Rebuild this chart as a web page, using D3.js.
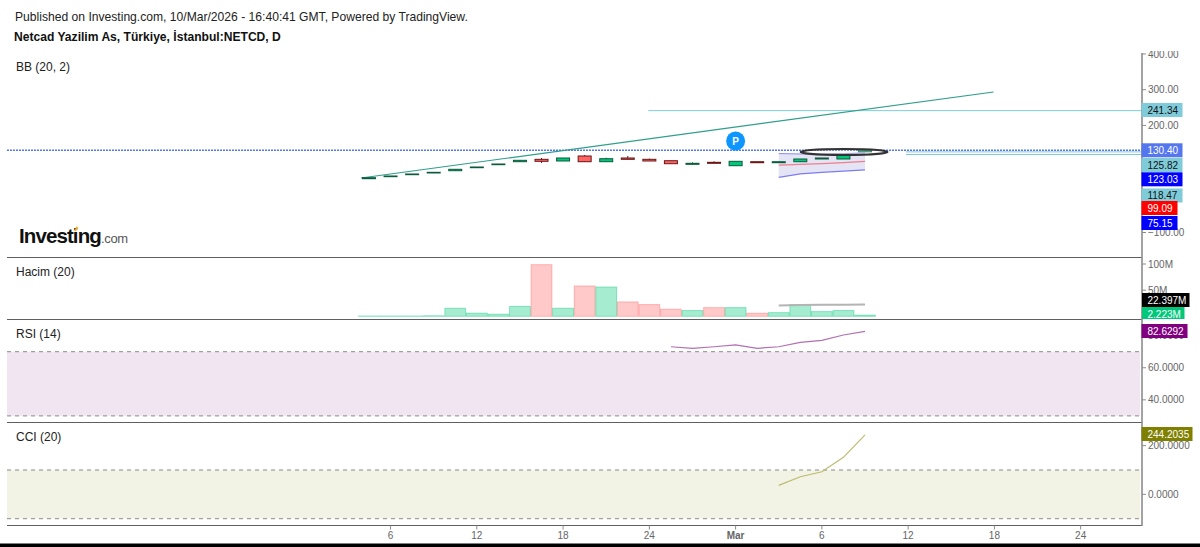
<!DOCTYPE html>
<html>
<head>
<meta charset="utf-8">
<script src="https://cdn.jsdelivr.net/npm/d3@7"></script>
<style>
html,body{margin:0;padding:0;background:#fff;overflow:hidden;}
text{font-family:"Liberation Sans",Arial,sans-serif;}
</style>
</head>
<body>
<div id="plot"></div>
<script>
//Values
var opens  = [50.7,56.3,61.9,66.7,73.1,81.5,89.9,98.3,105,100.3,114.3,98.3,108.7,105,101.1,91,96.6,87.1,98.3,95.5,98.3,105.9,105.9,126];
var closes = [53.5,58.3,63.9,68.6,77,83.5,91.9,102.2,99.4,108.7,98.3,106.7,105,100.3,92.7,93.8,93.8,99.4,95.5,98.3,105.9,108.7,117.9,130.4];
var highs  = [53.5,58.3,63.9,68.6,77,83.5,91.9,102.2,108.7,108.7,117,109.5,114.3,107,101.1,96.6,99.4,99.4,98.3,98.3,105.9,108.7,117.9,131];
var lows   = [50.7,56.3,61.9,66.7,73.1,81.5,89.9,98.3,94.7,100.3,98.3,98.3,105,100.3,92.7,91,93.8,87.1,95.5,95.5,98.3,105.9,105.9,126];
var volumes = [0.6,0.6,0.6,1,15.4,6,4,19,98.7,15.4,58,56,27.5,22.4,13.5,11,16.6,16.6,5.8,7,22.4,9,11,2.223];

var bbStart = 19;
var bbUpper = [121,120,120,121,123.03];
var bbBasis = [88.9,91,93,96,99.09];
var bbLower = [54.6,64,68.6,72,75.15];
var volMa = [20.5,21.5,22,22.3,22.397];

var rsiStart = 14;
var rsi = [73.1,72.1,73.1,74.2,72.1,73.1,75.8,77.1,80.4,82.6292];
var cciStart = 19;
var cci = [37,72.3,92.8,152,244.2035];

var trendIdx = [-0.37,28.96];
var trendPrice = [52.6,293.6];
var hLines = [{from:12.95,price:241.34},{from:24.9,price:125.82},{from:24.9,price:118.47}];

var priceTicks = [400,300,200,100,0,-100];
var hiddenPriceLabels = [100,0]; //covered by the value labels in the original
var volTicks = [100,50];
var rsiTicks = [80,60,40];
var cciTicks = [200,0];
var timeTicks = [[1,'6'],[5,'12'],[9,'18'],[13,'24'],[17,'Mar'],[21,'6'],[25,'12'],[29,'18'],[33,'24']];

var W = 1200, H = 547, left = 7, axisX = 1142;
var bullFill = '#00c87a', bearFill = '#ff6464', bullEdge = '#0c5a3c', bearEdge = '#6a1616';

var svg = d3.select('#plot').append('svg').attr('width',W).attr('height',H).style('display','block');

var x = d3.scaleLinear().domain([0,23]).range([369,865]);
var yPrice = d3.scaleLinear().domain([-100,400]).range([232.5,54]);
var yVol = d3.scaleLinear().domain([0,100]).range([316.3,264]);
var yRsi = d3.scaleLinear().domain([30,70]).range([415.9,351.7]);
var yCci = d3.scaleLinear().domain([-100,100]).range([518.7,470]);

var defs = svg.append('defs');
defs.append('clipPath').attr('id','axisClip').append('rect').attr('x',axisX).attr('y',51).attr('width',W-axisX).attr('height',H-51);
defs.append('clipPath').attr('id','volClip').append('rect').attr('x',axisX).attr('y',258).attr('width',W-axisX).attr('height',61);

//Header
svg.append('text').attr('x',15).attr('y',20.5).attr('font-size',12.12).attr('fill','#222').text('Published on Investing.com, 10/Mar/2026 - 16:40:41 GMT, Powered by TradingView.');
svg.append('text').attr('x',14).attr('y',41).attr('font-size',12.1).attr('font-weight','bold').attr('fill','#111').text('Netcad Yazilim As, Türkiye, İstanbul:NETCD, D');

function legend(txt,y){
	svg.append('text').attr('x',16).attr('y',y).attr('font-size',12).attr('fill','#222').text(txt);
}
legend('BB (20, 2)',71);
legend('Hacim (20)',276);
legend('RSI (14)',338);
legend('CCI (20)',441);

//Logo
var logo = svg.append('text').attr('x',19).attr('y',242.5);
logo.append('tspan').attr('font-size',20.5).attr('font-weight','bold').attr('letter-spacing',-0.9).attr('fill','#111').text('Investing');
logo.append('tspan').attr('font-size',13).attr('fill','#555').attr('letter-spacing',-0.3).text('.com');
svg.append('line').attr('x1',75).attr('x2',77.5).attr('y1',231).attr('y2',227).attr('stroke','#f5a623').attr('stroke-width',2);

//Bands
svg.append('rect').attr('x',left).attr('width',axisX-2-left).attr('y',yRsi(70)).attr('height',yRsi(30)-yRsi(70)).attr('fill','#800080').attr('fill-opacity',0.1);
svg.append('rect').attr('x',left).attr('width',axisX-2-left).attr('y',yCci(100)).attr('height',yCci(-100)-yCci(100)).attr('fill','#808000').attr('fill-opacity',0.1);

function dashed(y){
	svg.append('line').attr('x1',left).attr('x2',axisX-2).attr('y1',y).attr('y2',y)
		.attr('stroke','#8a8a8a').attr('stroke-dasharray','4 4');
}
dashed(yRsi(70));dashed(yRsi(30));dashed(yCci(100));dashed(yCci(-100));

//Horizontal drawings and trend line
hLines.forEach(function(d){
	svg.append('line').attr('x1',x(d.from)).attr('x2',axisX).attr('y1',yPrice(d.price)).attr('y2',yPrice(d.price))
		.attr('stroke','#7fcbd9').attr('stroke-width',1);
});
svg.append('line').attr('x1',left).attr('x2',axisX).attr('y1',yPrice(130.4)).attr('y2',yPrice(130.4))
	.attr('stroke','#5577ee').attr('stroke-width',1.5).attr('stroke-dasharray','2 1');
svg.append('line').attr('x1',x(trendIdx[0])).attr('x2',x(trendIdx[1])).attr('y1',yPrice(trendPrice[0])).attr('y2',yPrice(trendPrice[1]))
	.attr('stroke','#2f9e8a').attr('stroke-width',1.2);

//Bollinger bands
var bbArea = d3.area().x(function(d,i){return x(bbStart+i);})
	.y0(function(d,i){return yPrice(bbLower[i]);})
	.y1(function(d){return yPrice(d);});
svg.append('path').datum(bbUpper).attr('d',bbArea).attr('fill','#2222aa').attr('fill-opacity',0.12);
function seriesLine(vals,start,yScale,color,width){
	var l = d3.line().x(function(d,i){return x(start+i);}).y(function(d){return yScale(d);});
	svg.append('path').datum(vals).attr('d',l).attr('fill','none').attr('stroke',color).attr('stroke-width',width);
}
seriesLine(bbUpper,bbStart,yPrice,'#8a8af0',1);
seriesLine(bbBasis,bbStart,yPrice,'#ee7f8c',1.2);
seriesLine(bbLower,bbStart,yPrice,'#7c7cf0',1.2);

//Candles
var candles = svg.append('g').selectAll('g').data(d3.range(opens.length)).enter().append('g');
candles.append('line')
	.attr('x1',function(i){return x(i);}).attr('x2',function(i){return x(i);})
	.attr('y1',function(i){return yPrice(highs[i]);}).attr('y2',function(i){return yPrice(lows[i]);})
	.attr('stroke',function(i){return closes[i]>=opens[i]?bullEdge:bearEdge;});
candles.append('rect')
	.attr('x',function(i){return x(i)-6.5;}).attr('width',13)
	.attr('y',function(i){return yPrice(Math.max(opens[i],closes[i]));})
	.attr('height',function(i){return Math.abs(yPrice(opens[i])-yPrice(closes[i]));})
	.attr('fill',function(i){return closes[i]>=opens[i]?bullFill:bearFill;})
	.attr('stroke',function(i){return closes[i]>=opens[i]?bullEdge:bearEdge;});

//Ellipse drawing around the last bars
svg.append('ellipse').attr('cx',x(22.03)).attr('cy',yPrice(125.5)).attr('rx',43.5).attr('ry',3)
	.attr('fill','#fff').attr('fill-opacity',0.25).attr('stroke','#333').attr('stroke-width',2);

//P marker
svg.append('circle').attr('cx',x(17)).attr('cy',141).attr('r',9.5).attr('fill','#0d96ff');
svg.append('text').attr('x',x(17)).attr('y',144.5).attr('text-anchor','middle').attr('font-size',10).attr('font-weight','bold').attr('fill','#fff').text('P');

//Volume
svg.append('g').selectAll('rect').data(volumes).enter().append('rect')
	.attr('x',function(d,i){return x(i)-10.4;}).attr('width',20.8)
	.attr('y',function(d){return yVol(d);})
	.attr('height',function(d){return yVol(0)-yVol(d);})
	.attr('fill',function(d,i){return closes[i]>=opens[i]?'#00c87a':'#ff6464';}).attr('fill-opacity',0.35)
	.attr('stroke',function(d,i){return closes[i]>=opens[i]?'#00c87a':'#ff6464';}).attr('stroke-opacity',0.4);
seriesLine(volMa,bbStart,yVol,'#b4b4b4',2);

//RSI and CCI
seriesLine(rsi,rsiStart,yRsi,'#b36fb3',1.2);
seriesLine(cci,cciStart,yCci,'#bcbc70',1.2);

//Pane separators and axis line
[257.5,319.5,422.5,525.5].forEach(function(y){
	svg.append('line').attr('x1',left).attr('x2',axisX).attr('y1',y).attr('y2',y).attr('stroke','#5f5f5f').attr('stroke-width',1);
});
svg.append('line').attr('x1',axisX).attr('x2',axisX).attr('y1',53).attr('y2',526).attr('stroke','#8c8c8c').attr('stroke-width',1.6);

//Y ticks
var axisG = svg.append('g').attr('clip-path','url(#axisClip)');
function yTicks(ticks,scale,fmt,hidden){
	ticks.forEach(function(t){
		var y = scale(t);
		axisG.append('line').attr('x1',axisX).attr('x2',axisX+4).attr('y1',y).attr('y2',y).attr('stroke','#8c8c8c');
		if (hidden && hidden.indexOf(t)>=0) return;
		axisG.append('text').attr('x',axisX+6).attr('y',y+3.6).attr('font-size',10).attr('fill','#666').text(fmt(t));
	});
}
yTicks(priceTicks,yPrice,d3.format('.2f'),hiddenPriceLabels);
yTicks(volTicks,yVol,function(d){return d+'M';});
yTicks(rsiTicks,yRsi,d3.format('.4f'));
yTicks(cciTicks,yCci,d3.format('.4f'));

//Last value labels, shifted apart like the original scale does
function valueLabel(txt,yMid,w,bg,fg,group){
	var g = group || svg;
	g.append('rect').attr('x',axisX-0.5).attr('y',yMid-7).attr('width',w).attr('height',14).attr('fill',bg);
	g.append('text').attr('x',axisX+5.5).attr('y',yMid+3.6).attr('font-size',10).attr('fill',fg).text(txt);
}
valueLabel('241.34',110,41,'#7fcbd9','#111');
valueLabel('130.40',150.3,41,'#5577ee','#fff');
valueLabel('125.82',165,41,'#7fcbd9','#111');
valueLabel('123.03',179.3,41,'#0000ff','#fff');
valueLabel('118.47',195.5,41,'#7fcbd9','#111');
valueLabel('99.09',208,36,'#ff0000','#fff');
valueLabel('75.15',223,36,'#0000ff','#fff');
var volLabels = svg.append('g').attr('clip-path','url(#volClip)');
valueLabel('22.397M',300,48,'#000','#fff',volLabels);
valueLabel('2.223M',314,43,'#00c87a','#fff',volLabels);
valueLabel('82.6292',331,46,'#800080','#fff');
valueLabel('244.2035',434,51,'#808000','#fff');

//Time axis
timeTicks.forEach(function(t){
	svg.append('line').attr('x1',x(t[0])).attr('x2',x(t[0])).attr('y1',525.5).attr('y2',529.5).attr('stroke','#8c8c8c');
	svg.append('text').attr('x',x(t[0])).attr('y',539).attr('text-anchor','middle').attr('font-size',10)
		.attr('font-weight',t[1]=='Mar'?'bold':'normal').attr('fill','#666').text(t[1]);
});

//Black strip at the bottom of the screenshot
svg.append('rect').attr('x',0).attr('y',543.5).attr('width',W).attr('height',H-543.5).attr('fill','#000');
</script>
</body>
</html>
